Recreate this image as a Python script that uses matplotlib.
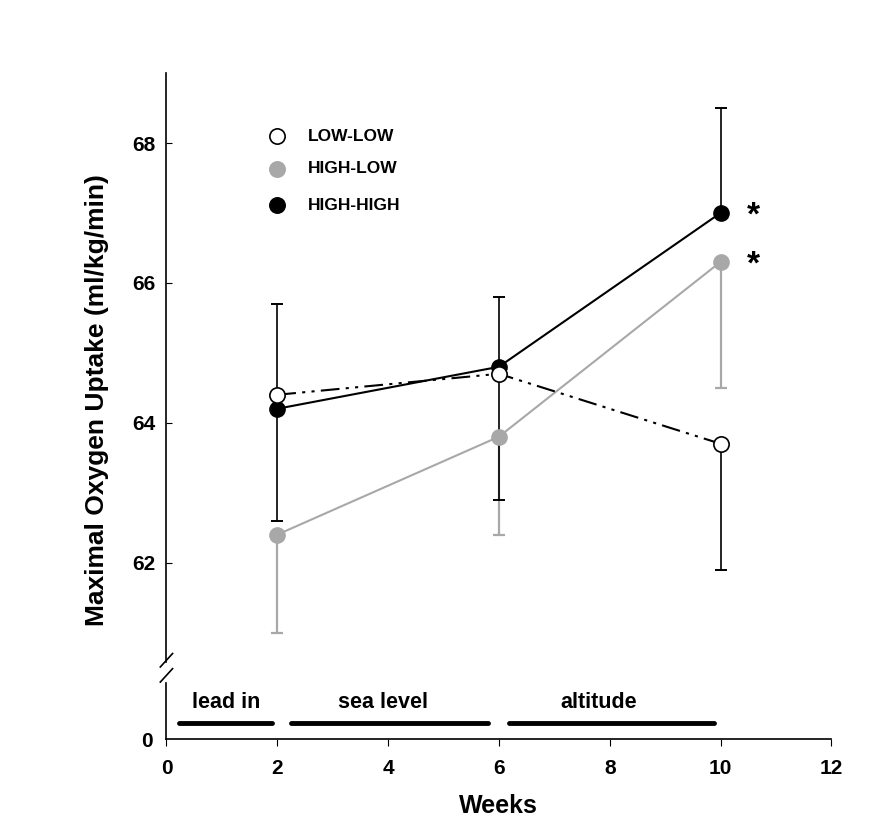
import matplotlib.pyplot as plt

plt.rcParams['font.family'] = ['Liberation Sans', 'DejaVu Sans']
plt.rcParams['font.weight'] = 'bold'
plt.rcParams['axes.labelweight'] = 'bold'

weeks = [2, 6, 10]
low_low = [64.4, 64.7, 63.7]
high_low = [62.4, 63.8, 66.3]
high_high = [64.2, 64.8, 67.0]

# one-sided error bars (lower, upper) as drawn in the figure
low_low_err = [[0, 1.8, 1.8], [1.3, 0, 0]]
high_low_err = [[1.4, 1.4, 1.8], [0, 0, 0]]
high_high_err = [[1.6, 0, 0], [0, 1.0, 1.5]]

labels = ['LOW-LOW', 'HIGH-LOW', 'HIGH-HIGH']
phases = ['lead in', 'sea level', 'altitude']
phase_start = [0.23, 2.24, 6.19]
phase_end = [1.91, 5.8, 9.89]
phase_text_x = [1.07, 3.9, 7.8]

gray = '#a8a8a8'
ms = 11

fig = plt.figure(figsize=(8.76, 8.4), dpi=100)
ax = fig.add_axes([0.19, 0.212, 0.759, 0.701])
ax2 = fig.add_axes([0.19, 0.12, 0.759, 0.067])

# error bars
ax.errorbar(weeks, high_low, yerr=high_low_err, fmt='none', ecolor=gray,
            elinewidth=1.6, capsize=4.5, capthick=1.6, zorder=1)
ax.errorbar(weeks, high_high, yerr=high_high_err, fmt='none', ecolor='black',
            elinewidth=1.2, capsize=4.5, capthick=1.4, zorder=1)
ax.errorbar(weeks, low_low, yerr=low_low_err, fmt='none', ecolor='black',
            elinewidth=1.2, capsize=4.5, capthick=1.4, zorder=1)

ax.plot(weeks, high_low, color=gray, lw=1.5, marker='o', ms=ms,
        mfc=gray, mec=gray, zorder=2)
ax.plot(weeks, high_high, color='black', lw=1.5, marker='o', ms=ms,
        mfc='black', mec='black', zorder=3)
ax.plot(weeks, low_low, color='black', lw=1.5, dashes=(9, 3, 1.5, 3, 1.5, 3),
        marker='o', ms=ms, mfc='white', mec='black', mew=1.2, zorder=4)

# significance marks
ax.text(10.6, high_high[2] - 0.05, '*', fontsize=24, ha='center', va='center')
ax.text(10.6, high_low[2] - 0.05, '*', fontsize=24, ha='center', va='center')

# legend drawn by hand
leg_y = [68.1, 67.63, 67.11]
leg_fc = ['white', gray, 'black']
leg_ec = ['black', gray, 'black']
for yy, fc, ec, lab in zip(leg_y, leg_fc, leg_ec, labels):
    ax.plot([2.0], [yy], marker='o', ms=ms, mfc=fc, mec=ec, mew=1.2, ls='none')
    ax.text(2.55, yy, lab, fontsize=12.5, va='center', ha='left')

ax.set_xlim(0, 12)
ax.set_ylim(60.58, 69)
ax.set_yticks([62, 64, 66, 68])
ax.set_xticks([])
for s in ['top', 'right', 'bottom']:
    ax.spines[s].set_visible(False)
ax.spines['left'].set_linewidth(1.2)
ax.tick_params(axis='y', direction='in', length=4, labelsize=15, pad=8)
ax.set_ylabel('Maximal Oxygen Uptake (ml/kg/min)', fontsize=19)
ax.yaxis.set_label_coords(-0.087, 0.445)

# lower panel with phases
ax2.set_xlim(0, 12)
ax2.set_ylim(0, 1)
for x0, x1, tx, name in zip(phase_start, phase_end, phase_text_x, phases):
    ax2.plot([x0, x1], [0.29, 0.29], color='black', lw=3.5, solid_capstyle='round')
    ax2.text(tx, 0.66, name, fontsize=15.5, ha='center', va='center')
ax2.set_xticks([0, 2, 4, 6, 8, 10, 12])
ax2.set_yticks([0])
for s in ['top', 'right']:
    ax2.spines[s].set_visible(False)
ax2.spines['left'].set_linewidth(1.2)
ax2.spines['bottom'].set_linewidth(1.2)
ax2.tick_params(axis='x', direction='out', length=5, labelsize=15, pad=9)
ax2.tick_params(axis='y', length=0, labelsize=15, pad=10)
ax2.set_xlabel('Weeks', fontsize=18, labelpad=12)

# axis break marks
for yb in [0.196, 0.214]:
    fig.add_artist(plt.Line2D([0.183, 0.197], [yb - 0.008, yb + 0.008],
                              color='black', lw=1.2))

fig.savefig('out.png', dpi=100)
